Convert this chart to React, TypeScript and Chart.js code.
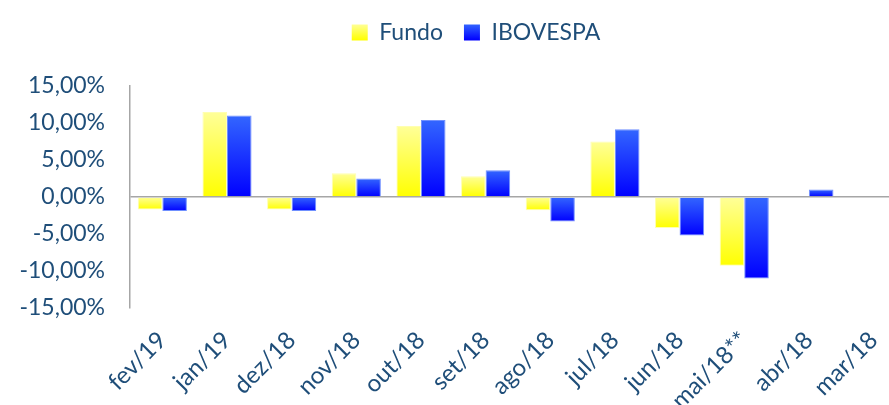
import React, { useEffect, useRef } from "react";
import { Chart, registerables } from "chart.js";

Chart.register(...registerables);

const categories = ["fev/19", "jan/19", "dez/18", "nov/18", "out/18", "set/18", "ago/18", "jul/18", "jun/18", "mai/18**", "abr/18", "mar/18"];
const fundoValues = [-1.7, 11.5, -1.7, 3.2, 9.6, 2.8, -1.8, 7.5, -4.2, -9.3, null, null];
const ibovValues = [-1.9, 11.0, -1.9, 2.5, 10.4, 3.6, -3.3, 9.15, -5.2, -11.0, 1.0, null];
const yTicks = [-15, -10, -5, 0, 5, 10, 15];

const TEXT = "#1F4E79";
const FONT = "Lato, 'Open Sans', sans-serif";
const CW = 912;
const CH = 430;

function barGradient(light: string, dark: string) {
  return (ctx: any) => {
    const chart = ctx.chart;
    if (!chart.chartArea || ctx.type !== "data") return dark;
    const v = ctx.raw;
    if (v === null || v === undefined) return dark;
    const y = chart.scales.y;
    const top = y.getPixelForValue(Math.max(v, 0));
    const bottom = y.getPixelForValue(Math.min(v, 0));
    if (!isFinite(top) || !isFinite(bottom) || top === bottom) return dark;
    const g = chart.ctx.createLinearGradient(0, top, 0, bottom);
    g.addColorStop(0, light);
    g.addColorStop(1, dark);
    return g;
  };
}

const legendPlugin = {
  id: "legendTweak",
  beforeInit(chart: any) {
    const orig = chart.legend.fit;
    chart.legend.fit = function () {
      orig.call(this);
      this.height = 86;
    };
  },
  afterLayout(chart: any) {
    chart.legend.left += 21;
    chart.legend.right += 21;
  },
};

export default function App() {
  const ref = useRef<HTMLCanvasElement | null>(null);
  useEffect(() => {
    if (!ref.current) return;
    const chart = new Chart(ref.current, {
      type: "bar",
      data: {
        labels: categories,
        datasets: [
          {
            label: "Fundo",
            data: fundoValues,
            backgroundColor: barGradient("#ffff99", "#ffff00"),
            borderColor: "#ffffb0",
            borderWidth: 1,
            categoryPercentage: 0.76,
            barPercentage: 1.0,
          },
          {
            label: "IBOVESPA",
            data: ibovValues,
            backgroundColor: barGradient("#3366ff", "#0000ff"),
            borderColor: "#7090ff",
            borderWidth: 1,
            categoryPercentage: 0.76,
            barPercentage: 1.0,
          },
        ],
      },
      options: {
        responsive: false,
        animation: false,
        devicePixelRatio: 1,
        layout: { padding: { top: 0, left: 0, right: 2, bottom: 0 } },
        plugins: {
          tooltip: { enabled: false },
          legend: {
            position: "top",
            labels: {
              color: TEXT,
              font: { family: FONT, size: 23 },
              boxWidth: 16,
              boxHeight: 16,
              padding: 21,
              generateLabels: (chart: any) => {
                const c = chart.ctx;
                const g1 = c.createLinearGradient(0, 24, 0, 40);
                g1.addColorStop(0, "#ffff99");
                g1.addColorStop(1, "#ffff00");
                const g2 = c.createLinearGradient(0, 24, 0, 40);
                g2.addColorStop(0, "#3366ff");
                g2.addColorStop(1, "#0000ff");
                return [
                  { text: "Fundo", fillStyle: g1, strokeStyle: "#ffffb0", lineWidth: 0, datasetIndex: 0, fontColor: TEXT },
                  { text: "IBOVESPA", fillStyle: g2, strokeStyle: "#7090ff", lineWidth: 0, datasetIndex: 1, fontColor: TEXT },
                ];
              },
            },
          },
        },
        scales: {
          x: {
            grid: { display: false, drawTicks: false },
            border: { display: false },
            ticks: {
              color: TEXT,
              font: { family: FONT, size: 24 },
              minRotation: 45,
              maxRotation: 45,
              padding: 18,
              autoSkip: false,
            },
            afterFit: (s: any) => {
              s.height = CH - 308;
            },
          },
          y: {
            min: -15,
            max: 15,
            afterBuildTicks: (s: any) => {
              s.ticks = yTicks.map((v) => ({ value: v }));
            },
            grid: {
              drawTicks: false,
              color: (c: any) => (c.tick && c.tick.value === 0 ? "#a6a6a6" : "rgba(0,0,0,0)"),
              lineWidth: 1.5,
            },
            border: { display: true, color: "#a6a6a6", width: 1.5 },
            ticks: {
              color: TEXT,
              font: { family: FONT, size: 23 },
              padding: 25,
              callback: (v: any) => Number(v).toFixed(2).replace(".", ",") + "%",
            },
            afterFit: (s: any) => {
              s.width = 130;
            },
          },
        },
      },
      plugins: [legendPlugin],
    } as any);
    return () => chart.destroy();
  }, []);
  return (
    <div style={{ position: "fixed", left: 0, top: 0, width: 889, height: 405, overflow: "hidden", background: "#fff" }}>
      <canvas ref={ref} width={CW} height={CH} style={{ display: "block" }} />
    </div>
  );
}
